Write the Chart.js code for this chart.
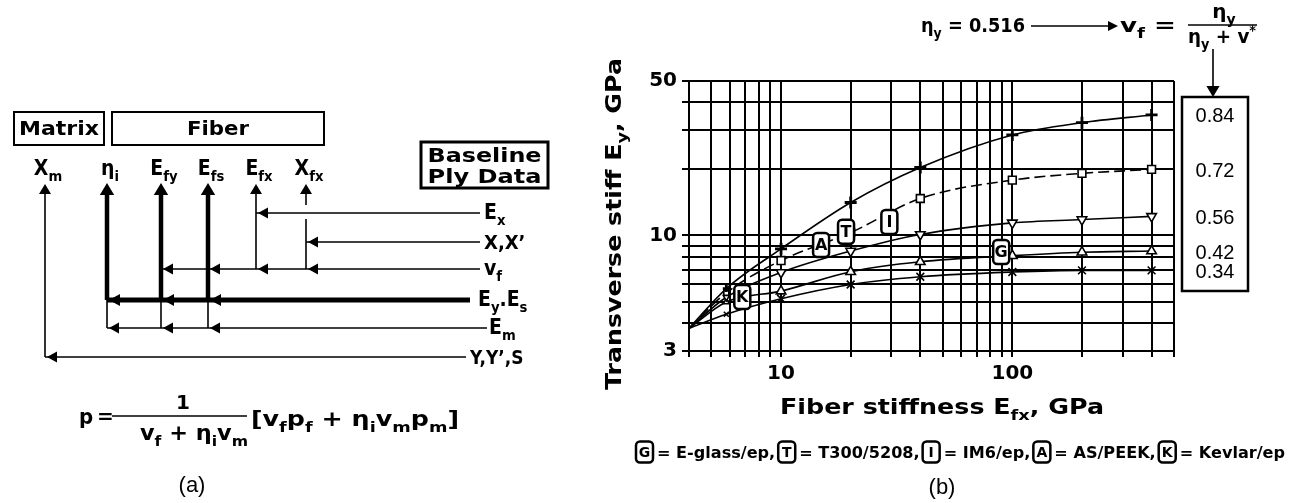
<!DOCTYPE html>
<html><head><meta charset="utf-8">
<script src="https://cdn.jsdelivr.net/npm/chart.js@4.4.0/dist/chart.umd.min.js"></script>
<style>html,body{margin:0;padding:0;background:#fff;overflow:hidden}canvas{display:block}</style>
</head><body>
<canvas id="c" width="1291" height="503" style="width:1291px;height:503px"></canvas>
<script>
// ---- data ----
const fiberStiffness = [4, 5.8, 10, 20, 40, 100, 200, 400];
const vf084 = [3.8, 5.75, 8.7, 14.1, 20.3, 28.5, 32.4, 35.1];
const vf072 = [3.8, 5.5, 7.7, 10.3, 14.7, 17.8, 19.1, 19.9];
const vf056 = [3.8, 5.25, 6.8, 8.5, 10.1, 11.4, 11.8, 12.2];
const vf042 = [3.8, 5.0, 5.6, 6.85, 7.6, 8.1, 8.4, 8.5];
const vf034 = [3.8, 4.4, 5.17, 6.0, 6.5, 6.83, 6.95, 6.95];
const seriesLabels = ['0.84', '0.72', '0.56', '0.42', '0.34'];
const xGridValues = [4,5,6,7,8,9,10,20,30,40,50,60,70,80,90,100,200,300,400,500];
const yGridValues = [3,4,5,6,7,8,9,10,20,30,40,50];
const xTickLabels = [10, 100];
const yTickLabels = [3, 10, 50];
const materialLetters = ['K', 'A', 'T', 'I', 'G'];
const materialX = [6.8, 14.9, 19.1, 29.4, 89.5];
const materialY = [5.26, 9.05, 10.4, 11.5, 8.41];
const legendLetters = ['G', 'T', 'I', 'A', 'K'];
const legendNames = ['E-glass/ep', 'T300/5208', 'IM6/ep', 'AS/PEEK', 'Kevlar/ep'];

// ---- styles ----
const seriesValues = [vf084, vf072, vf056, vf042, vf034];
const seriesPoint = ['cross', 'rect', 'triangle', 'triangle', 'crossRot'];
const seriesRot = [0, 0, 180, 0, 0];
const seriesDash = [[], [11, 5], [], [], []];
const F = 'DejaVu Sans';

function setFont(ctx, size, bold, fam) { ctx.font = (bold ? 'bold ' : '') + size + 'px "' + (fam || F) + '"'; }
function drawRich(ctx, parts, x, y, size, o) {
  o = o || {};
  const bold = o.bold !== false, fam = o.fam || F;
  const segs = parts.map(p => typeof p === 'string' ? [p, 0] : p);
  const ws = []; let tot = 0;
  for (const [t, m] of segs) { setFont(ctx, m ? size * 0.7 : size, bold, fam); const w = ctx.measureText(t).width; ws.push(w); tot += w; }
  const sx = o.width ? o.width / tot : (o.sx || 1);
  const total = tot * sx;
  const cx = o.align === 'center' ? x - total / 2 : o.align === 'right' ? x - total : x;
  ctx.save(); ctx.translate(cx, y); ctx.scale(sx, 1);
  ctx.textAlign = 'left'; ctx.textBaseline = 'alphabetic'; ctx.fillStyle = '#000';
  let px = 0;
  segs.forEach(([t, m], i) => {
    setFont(ctx, m ? size * 0.7 : size, bold, fam);
    const dy = m === 1 ? size * 0.3 : m === 2 ? -size * 0.4 : 0;
    ctx.fillText(t, px, dy); px += ws[i];
  });
  ctx.restore();
  return total;
}
function seg(ctx, x1, y1, x2, y2, lw) { ctx.lineWidth = lw; ctx.beginPath(); ctx.moveTo(x1, y1); ctx.lineTo(x2, y2); ctx.stroke(); }
function headUp(ctx, x, y, s) { ctx.beginPath(); ctx.moveTo(x, y); ctx.lineTo(x - s * 0.6, y + s); ctx.lineTo(x + s * 0.6, y + s); ctx.closePath(); ctx.fill(); }
function headDown(ctx, x, y, s) { ctx.beginPath(); ctx.moveTo(x, y); ctx.lineTo(x - s * 0.6, y - s); ctx.lineTo(x + s * 0.6, y - s); ctx.closePath(); ctx.fill(); }
function headLeft(ctx, x, y, s) { ctx.beginPath(); ctx.moveTo(x, y); ctx.lineTo(x + s, y - s * 0.55); ctx.lineTo(x + s, y + s * 0.55); ctx.closePath(); ctx.fill(); }
function headRight(ctx, x, y, s) { ctx.beginPath(); ctx.moveTo(x, y); ctx.lineTo(x - s, y - s * 0.5); ctx.lineTo(x - s, y + s * 0.5); ctx.closePath(); ctx.fill(); }
function rrect(ctx, x, y, w, h, r) { ctx.beginPath(); ctx.moveTo(x + r, y); ctx.arcTo(x + w, y, x + w, y + h, r); ctx.arcTo(x + w, y + h, x, y + h, r); ctx.arcTo(x, y + h, x, y, r); ctx.arcTo(x, y, x + w, y, r); ctx.closePath(); }
function letterBox(ctx, letter, cx, cy, w, h, fs) {
  ctx.fillStyle = '#fff'; ctx.strokeStyle = '#000'; ctx.lineWidth = 2.5;
  rrect(ctx, cx - w / 2, cy - h / 2, w, h, 4); ctx.fill(); ctx.stroke();
  ctx.fillStyle = '#000'; setFont(ctx, fs, true); ctx.textAlign = 'center'; ctx.textBaseline = 'middle';
  ctx.fillText(letter, cx, cy + 1);
}

function drawPanelA(ctx) {
  ctx.save(); ctx.strokeStyle = '#000'; ctx.fillStyle = '#000';
  // header boxes
  ctx.lineWidth = 2; ctx.strokeRect(14, 112, 90, 33); ctx.strokeRect(112, 112, 212, 33);
  ctx.lineWidth = 3; ctx.strokeRect(421, 142, 127, 46);
  drawRich(ctx, ['Matrix'], 59, 135, 20, { align: 'center', width: 80 });
  drawRich(ctx, ['Fiber'], 218, 135, 20, { align: 'center', width: 62 });
  drawRich(ctx, ['Baseline'], 484.5, 162, 19, { align: 'center', width: 114 });
  drawRich(ctx, ['Ply Data'], 484.5, 183, 19, { align: 'center', width: 114 });
  // column labels
  const cols = [[45, ['X', ['m', 1]]], [107, ['\u03b7', ['i', 1]]], [161, ['E', ['fy', 1]]], [208, ['E', ['fs', 1]]], [256, ['E', ['fx', 1]]], [306, ['X', ['fx', 1]]]];
  cols.forEach(([x, p]) => drawRich(ctx, p, x + 3, 175, 21, { align: 'center', sx: 0.9 }));
  // verticals
  seg(ctx, 45, 192, 45, 357, 1.6); headUp(ctx, 45, 184, 10);
  [107, 161, 208].forEach(x => { seg(ctx, x, 192, x, 300, 4.5); seg(ctx, x, 300, x, 328, 1.6); headUp(ctx, x, 183, 12); });
  seg(ctx, 256, 192, 256, 269, 1.6); headUp(ctx, 256, 184, 10);
  seg(ctx, 306, 192, 306, 205, 1.6); headUp(ctx, 306, 184, 10); seg(ctx, 306, 219, 306, 269, 1.6);
  // horizontals
  seg(ctx, 256, 213, 480, 213, 1.6); headLeft(ctx, 258, 213, 10);
  seg(ctx, 306, 242, 480, 242, 1.6); headLeft(ctx, 308, 242, 10);
  seg(ctx, 161, 269, 480, 269, 1.6); [306, 256, 208, 161].forEach(x => headLeft(ctx, x + 2, 269, 10));
  seg(ctx, 107, 300, 470, 300, 5); [208, 161, 107].forEach(x => headLeft(ctx, x + 2, 300, 11));
  seg(ctx, 107, 328, 487, 328, 1.6); [208, 161, 107].forEach(x => headLeft(ctx, x + 2, 328, 10));
  seg(ctx, 45, 357, 466, 357, 1.6); headLeft(ctx, 47, 357, 10);
  // row labels
  drawRich(ctx, ['E', ['x', 1]], 484, 219, 21, { sx: 0.9 });
  drawRich(ctx, ['X,X\u2019'], 484, 249, 20, { sx: 0.9 });
  drawRich(ctx, ['v', ['f', 1]], 484, 275, 21, { sx: 0.9 });
  drawRich(ctx, ['E', ['y', 1], '.E', ['s', 1]], 478, 306, 21, { sx: 0.9 });
  drawRich(ctx, ['E', ['m', 1]], 489, 334, 21, { sx: 0.9 });
  drawRich(ctx, ['Y,Y\u2019,S'], 470, 364, 20, { sx: 0.85 });
  // formula
  drawRich(ctx, ['p'], 79, 424, 22, { sx: 0.9 });
  drawRich(ctx, ['='], 97, 423, 20, {});
  seg(ctx, 112, 416, 247, 416, 1.6);
  drawRich(ctx, ['1'], 183, 409, 20, { align: 'center' });
  drawRich(ctx, ['v', ['f', 1], ' + \u03b7', ['i', 1], 'v', ['m', 1]], 194, 440, 21, { align: 'center', width: 108 });
  drawRich(ctx, ['[v', ['f', 1], 'p', ['f', 1], ' + \u03b7', ['i', 1], 'v', ['m', 1], 'p', ['m', 1], ']'], 251, 426, 21, { width: 208 });
  drawRich(ctx, ['(a)'], 192, 492, 22, { align: 'center', bold: false, fam: 'Liberation Sans' });
  ctx.restore();
}

const overlay = {
  id: 'overlay',
  afterDraw(chart) {
    const ctx = chart.ctx, xs = chart.scales.x, ys = chart.scales.y;
    ctx.save();
    drawPanelA(ctx);
    // axis titles
    ctx.save(); ctx.translate(621, 224); ctx.rotate(-Math.PI / 2);
    drawRich(ctx, ['Transverse stiff E', ['y', 1], ', GPa'], 0, 0, 21, { align: 'center', width: 332 });
    ctx.restore();
    drawRich(ctx, ['Fiber stiffness E', ['fx', 1], ', GPa'], 942, 414, 21, { align: 'center', width: 324 });
    // material labels on curves
    materialLetters.forEach((L, i) => letterBox(ctx, L, xs.getPixelForValue(materialX[i]), ys.getPixelForValue(materialY[i]), 16, 24, 16));
    // value box
    ctx.strokeStyle = '#000'; ctx.lineWidth = 2.5; ctx.strokeRect(1182, 97, 66, 194);
    seriesLabels.forEach((s, i) => {
      const v = seriesValues[i][seriesValues[i].length - 1];
      setFont(ctx, 20, false, 'Liberation Sans'); ctx.fillStyle = '#000'; ctx.textAlign = 'center'; ctx.textBaseline = 'middle';
      ctx.fillText(s, 1215, ys.getPixelForValue(v) + 2);
    });
    // top annotation
    drawRich(ctx, ['\u03b7', ['y', 1], ' = 0.516'], 921, 32, 20, { width: 104 });
    ctx.strokeStyle = '#000'; seg(ctx, 1031, 26, 1110, 26, 1.6); ctx.fillStyle = '#000'; headRight(ctx, 1118, 26, 10);
    drawRich(ctx, ['v', ['f', 1], ' ='], 1120, 32, 20, { width: 56 });
    drawRich(ctx, ['\u03b7', ['y', 1]], 1224, 18, 20, { align: 'center' });
    seg(ctx, 1188, 25, 1257, 25, 1.6);
    drawRich(ctx, ['\u03b7', ['y', 1], ' + ', 'v', ['*', 2]], 1222, 43, 20, { align: 'center', width: 68 });
    seg(ctx, 1213, 49, 1213, 90, 1.6); headDown(ctx, 1213, 97, 11);
    // legend line
    const gap = 4, bw = 17, after = 3, target = 652;
    setFont(ctx, 16, true);
    const texts = legendNames.map((n, i) => '= ' + n + (i < legendNames.length - 1 ? ',' : ''));
    let textW = 0; texts.forEach(t => { textW += ctx.measureText(t).width; });
    const fixed = texts.length * (bw + gap + after);
    const sx = (target - fixed) / textW;
    let x = 636;
    texts.forEach((t, i) => {
      letterBox(ctx, legendLetters[i], x + bw / 2, 452, bw, 21, 14);
      x += bw + gap;
      ctx.save(); ctx.translate(x, 458); ctx.scale(sx, 1); setFont(ctx, 16, true); ctx.fillStyle = '#000'; ctx.textAlign = 'left'; ctx.textBaseline = 'alphabetic';
      const w = ctx.measureText(t).width; ctx.fillText(t, 0, 0); ctx.restore();
      x += w * sx + after;
    });
    drawRich(ctx, ['(b)'], 942, 494, 22, { align: 'center', bold: false, fam: 'Liberation Sans' });
    ctx.restore();
  }
};

const datasets = seriesValues.map((vals, k) => ({
  label: seriesLabels[k],
  data: fiberStiffness.map((x, i) => ({ x: x, y: vals[i] })),
  borderColor: '#000', borderWidth: 1.6, borderDash: seriesDash[k],
  backgroundColor: '#fff', fill: false,
  cubicInterpolationMode: 'monotone',
  pointStyle: seriesPoint[k], rotation: seriesRot[k],
  pointBackgroundColor: '#fff', pointBorderColor: '#000',
  pointBorderWidth: k === 0 ? 2.8 : 1.6,
  pointRadius: c => c.dataIndex === 0 ? 0 : c.dataIndex === 1 ? 3.5 : (k === 0 ? 6 : 5.5)
}));

new Chart(document.getElementById('c'), {
  type: 'line',
  data: { datasets: datasets },
  options: {
    responsive: false, animation: false, devicePixelRatio: 1,
    layout: { padding: { left: 629, right: 117, top: 81, bottom: 112 } },
    plugins: { legend: { display: false }, tooltip: { enabled: false } },
    scales: {
      x: {
        type: 'logarithmic', min: 4, max: 500,
        afterBuildTicks: s => { s.ticks = xGridValues.map(v => ({ value: v })); },
        afterFit: s => { s.height = 40; },
        ticks: { autoSkip: false, maxRotation: 0, padding: 5, color: '#000', font: { family: F, weight: 'bold', size: 20 },
          callback: v => xTickLabels.includes(v) ? String(v) : '' },
        grid: { color: '#000', lineWidth: 2, tickLength: 6 },
        border: { color: '#000', width: 2 }
      },
      y: {
        type: 'logarithmic', min: 3, max: 50,
        afterBuildTicks: s => { s.ticks = yGridValues.map(v => ({ value: v })); },
        afterFit: s => { s.width = 60; },
        ticks: { autoSkip: false, padding: 5, color: '#000', font: { family: F, weight: 'bold', size: 20 },
          callback: v => yTickLabels.includes(v) ? String(v) : '' },
        grid: { color: '#000', lineWidth: 2, tickLength: 7 },
        border: { color: '#000', width: 2 }
      }
    }
  },
  plugins: [overlay]
});
</script>
</body></html>
